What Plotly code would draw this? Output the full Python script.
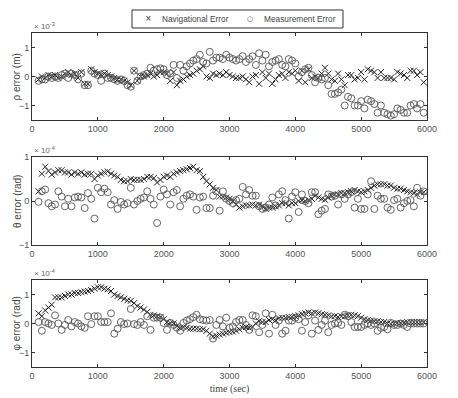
import plotly.graph_objects as go

# time samples (sec)
time_sec = list(range(100, 6000, 50))

# rho error (x1e-3 m)
rho_nav = [
    -0.1, 0.0, -0.05, 0.05, 0.0, 0.05, -0.05, 0.0, 0.1, 0.15,
    0.05, 0.1, -0.05, 0.15, -0.25, -0.25, 0.25, 0.15, 0.1, 0.05,
    0.1, 0.05, 0.0, -0.05, -0.1, -0.1, -0.15, -0.2, -0.3, 0.2,
    -0.15, 0.0, 0.0, 0.05, 0.1, 0.0, 0.05, 0.15, 0.15, 0.1,
    -0.15, 0.15, -0.3, -0.15, -0.1, 0.0, 0.05, 0.1, 0.2, 0.25,
    0.35, 0.0, -0.05, 0.1, 0.05, 0.1, 0.05, 0.15, 0.05, 0.0,
    -0.05, -0.05, 0.0, -0.1, -0.2, 0.0, 0.05, -0.25, 0.15, -0.05,
    0.1, -0.25, -0.1, 0.05, 0.1, -0.05, 0.15, 0.1, 0.2, -0.15,
    0.2, -0.2, 0.25, -0.05, 0.0, -0.05, 0.1, 0.3, 0.1, -0.1,
    -0.15, 0.1, -0.1, -0.3, 0.05, 0.05, -0.1, -0.05, 0.15, -0.1,
    0.25, 0.2, 0.15, -0.05, 0.15, -0.05, -0.05, -0.05, -0.1, 0.15,
    0.1, 0.05, -0.05, 0.2, 0.2, 0.05, 0.15, -0.2,
]
rho_meas = [
    -0.15, -0.1, -0.1, 0.0, -0.05, 0.0, -0.05, 0.05, 0.1, -0.05,
    0.1, 0.05, -0.1, 0.1, -0.3, -0.3, 0.2, 0.1, 0.05, -0.15,
    0.1, -0.05, -0.05, -0.1, -0.15, -0.1, -0.15, -0.3, -0.35, 0.2,
    -0.15, 0.0, 0.05, 0.1, 0.3, 0.2, 0.25, 0.28, 0.25, 0.05,
    0.1, 0.4, -0.05, 0.4, 0.2, 0.35, 0.45, 0.55, 0.6, 0.75,
    0.5, 0.45, 0.85, 0.55, 0.65, 0.65, 0.6, 0.75, 0.65, 0.6,
    0.55, 0.6, 0.7, 0.5, 0.6, 0.7, 0.4, 0.8, 0.55, 0.75,
    0.35, 0.5, 0.55, 0.6, 0.4, 0.35, 0.6, 0.55, 0.45, 0.0,
    0.15, 0.25, 0.3, 0.05, -0.2, -0.05, -0.1, -0.05, -0.3, -0.6,
    -0.6, -0.55, -0.45, -1.0, -0.7, -0.75, -1.0, -1.0, -0.85, -1.1,
    -0.8, -0.85, -0.95, -1.25, -1.0, -1.25, -1.3, -1.35, -1.3, -1.1,
    -1.15, -1.25, -1.25, -1.0, -0.95, -1.1, -0.95, -1.25,
]

# theta error (x1e-4 rad)
theta_nav = [
    0.22, 0.62, 0.78, 0.68, 0.6, 0.65, 0.7, 0.7, 0.65, 0.65,
    0.6, 0.65, 0.62, 0.65, 0.6, 0.62, 0.62, 0.5, 0.58, 0.62,
    0.65, 0.67, 0.62, 0.58, 0.55, 0.48, 0.45, 0.45, 0.5, 0.48,
    0.48, 0.48, 0.5, 0.55, 0.55, 0.52, 0.42, 0.48, 0.55, 0.58,
    0.55, 0.62, 0.65, 0.68, 0.7, 0.72, 0.75, 0.78, 0.7, 0.68,
    0.55, 0.45, 0.38, 0.3, 0.25, 0.1, 0.1, 0.08, 0.05, 0.0,
    -0.08, -0.15, -0.12, -0.1, -0.1, -0.08, -0.1, -0.08, -0.12, -0.18,
    -0.15, -0.15, -0.12, -0.1, -0.05, -0.05, -0.1, -0.05, -0.05, 0.0,
    0.02, 0.0, 0.02, 0.05, 0.12, 0.08, 0.05, 0.03, 0.08, 0.12,
    0.15, 0.15, 0.18, 0.18, 0.2, 0.22, 0.25, 0.22, 0.2, 0.22,
    0.25, 0.3, 0.35, 0.38, 0.38, 0.38, 0.35, 0.35, 0.3, 0.28,
    0.28, 0.25, 0.22, 0.2, 0.18, 0.15, 0.2, 0.2,
]
theta_meas = [
    -0.02, 0.22, 0.26, -0.05, -0.12, -0.08, 0.22, 0.1, -0.12, 0.05,
    -0.12, 0.08, 0.1, 0.08, -0.16, 0.18, 0.05, -0.4, 0.3, 0.2,
    0.28, 0.2, -0.08, 0.02, -0.18, -0.02, -0.08, -0.05, 0.3, -0.08,
    0.0, 0.05, 0.08, 0.22, 0.05, -0.08, -0.5, 0.1, 0.26, 0.15,
    -0.08, 0.2, 0.25, -0.12, 0.05, 0.12, 0.15, 0.1, -0.2, 0.08,
    0.1, -0.16, -0.16, 0.12, 0.22, -0.22, 0.22, 0.05, 0.0, -0.05,
    0.02, 0.05, 0.32, 0.15, 0.25, 0.12, 0.12, -0.12, -0.18, -0.15,
    -0.08, 0.08, -0.1, 0.15, 0.22, 0.02, -0.4, 0.1, 0.2, -0.25,
    0.15, 0.0, -0.05, 0.2, 0.2, -0.3, -0.22, -0.18, 0.15, 0.1,
    0.12, -0.08, 0.15, 0.05, 0.15, 0.2, -0.15, 0.05, -0.18, -0.18,
    0.15, 0.45, -0.18, 0.12, 0.05, 0.05, -0.15, -0.2, 0.02, 0.05,
    -0.15, -0.05, 0.0, 0.02, -0.12, 0.3, 0.12, 0.22,
]

# phi error (x1e-4 rad)
phi_nav = [
    0.35, 0.25, 0.45, 0.55, 0.65, 0.9, 0.9, 0.9, 0.95, 1.0,
    1.0, 1.05, 1.05, 1.08, 1.1, 1.12, 1.15, 1.2, 1.25, 1.25,
    1.2, 1.18, 1.12, 1.0, 0.95, 0.9, 0.85, 0.8, 0.78, 0.7,
    0.6, 0.55, 0.48, 0.4, 0.3, 0.28, 0.25, 0.22, 0.15, 0.05,
    0.02, 0.0, -0.08, -0.15, -0.12, -0.15, -0.18, -0.18, -0.18, -0.2,
    -0.2, -0.25, -0.35, -0.45, -0.42, -0.38, -0.35, -0.32, -0.3, -0.28,
    -0.25, -0.2, -0.15, -0.12, -0.15, -0.12, 0.0, 0.08, 0.05, 0.05,
    0.12, 0.15, 0.1, 0.18, 0.2, 0.2, 0.22, 0.22, 0.25, 0.28,
    0.32, 0.35, 0.38, 0.35, 0.38, 0.35, 0.32, 0.3, 0.28, 0.25,
    0.25, 0.22, 0.25, 0.25, 0.28, 0.3, 0.28, 0.25, 0.2, 0.15,
    0.12, 0.1, 0.08, 0.08, 0.05, 0.05, 0.0, -0.02, 0.0, 0.02,
    0.02, 0.02, 0.05, 0.05, 0.05, 0.05, 0.05, 0.05,
]
phi_meas = [
    0.05, -0.25, 0.05, 0.0, -0.05, 0.28, 0.0, -0.22, -0.05, 0.12,
    -0.1, 0.05, 0.0, -0.1, -0.15, 0.25, -0.02, 0.25, 0.25, 0.05,
    0.05, 0.05, 0.35, -0.35, -0.18, 0.05, -0.02, 0.0, 0.5, -0.02,
    -0.05, 0.05, -0.05, 0.25, -0.22, 0.2, 0.2, 0.2, 0.02, -0.22,
    0.02, -0.05, -0.15, -0.25, 0.02, 0.1, 0.15, 0.22, 0.3, 0.15,
    0.12, 0.1, 0.12, -0.52, -0.05, 0.12, -0.1, 0.2, -0.15, -0.1,
    0.05, 0.12, 0.12, -0.05, -0.22, 0.28, 0.25, -0.3, -0.05, 0.35,
    -0.35, 0.3, -0.05, 0.1, -0.35, -0.25, 0.1, 0.1, 0.2, 0.15,
    -0.25, 0.05, 0.28, -0.35, 0.1, -0.22, -0.05, 0.1, -0.3, -0.05,
    0.0, 0.02, -0.05, 0.3, 0.25, 0.05, -0.12, -0.12, -0.12, -0.05,
    0.0, -0.05, 0.0, -0.25, -0.15, -0.12, -0.2, 0.02, -0.05, -0.05,
    0.0, -0.05, -0.12, 0.0, 0.0, 0.0, 0.0, 0.0,
]

series_names = ["Navigational Error", "Measurement Error"]
legend_glyphs = ["\u00d7", "\u25cb"]
x_ticks = [0, 1000, 2000, 3000, 4000, 5000, 6000]
y_ticks = [-1, 0, 1]
y_titles = ["\u03c1 error (m)", "\u03b8 error (rad)", "\u03c6 error (rad)"]
exponents = ["\u00d7 10<sup>-3</sup>", "\u00d7 10<sup>-4</sup>", "\u00d7 10<sup>-4</sup>"]
y_ranges = [[-1.5, 1.5], [-1, 1], [-1.5, 1.5]]
domains = [[0.7395, 1.0], [0.3653, 0.6287], [0.0, 0.2605]]
panels = [(rho_nav, rho_meas), (theta_nav, theta_meas), (phi_nav, phi_meas)]

SANS = "Liberation Sans, Arial, sans-serif"
SERIF = "Liberation Serif, Times New Roman, serif"

fig = go.Figure()
for i, (nav, meas) in enumerate(panels):
    sfx = "" if i == 0 else str(i + 1)
    fig.add_trace(go.Scatter(
        x=time_sec, y=nav, mode="markers", name=series_names[0],
        showlegend=False, xaxis="x" + sfx, yaxis="y" + sfx,
        marker=dict(symbol="x-thin-open", size=6, line=dict(width=1, color="#222222"), color="#222222"),
    ))
    fig.add_trace(go.Scatter(
        x=time_sec, y=meas, mode="markers", name=series_names[1],
        showlegend=False, xaxis="x" + sfx, yaxis="y" + sfx,
        marker=dict(symbol="circle-open", size=7, line=dict(width=0.9, color="#555555"), color="#555555"),
    ))

axis_common = dict(
    showline=True, linecolor="#333333", linewidth=1, mirror="ticks",
    ticks="inside", ticklen=3, tickcolor="#333333", showgrid=False, zeroline=False,
    automargin=False,
    tickfont=dict(family=SANS, size=9, color="#555555"),
)

# page body has an 8px default margin, so the figure is sized to fit the window
layout = dict(
    width=450, height=390,
    paper_bgcolor="white", plot_bgcolor="white",
    margin=dict(l=24, r=31, t=25, b=31, autoexpand=False),
    showlegend=False,
    annotations=[],
    shapes=[dict(
        type="rect", xref="paper", yref="paper",
        x0=0.2532, x1=0.7873, y0=1.015, y1=1.0689,
        line=dict(color="#333333", width=1), fillcolor="white", layer="above",
    )],
)

# legend (drawn in the box above the top panel)
legend_sym_x = [0.2962, 0.5519]
legend_txt_x = [0.3241, 0.5823]
for k in range(2):
    layout["annotations"].append(dict(
        text=legend_glyphs[k], xref="paper", yref="paper", x=legend_sym_x[k], y=1.042,
        xanchor="center", yanchor="middle", showarrow=False,
        font=dict(family="DejaVu Sans, sans-serif", size=8 if k == 0 else 7, color="#333333"),
    ))
    layout["annotations"].append(dict(
        text=series_names[k], xref="paper", yref="paper", x=legend_txt_x[k], y=1.042,
        xanchor="left", yanchor="middle", showarrow=False,
        font=dict(family=SANS, size=8.3, color="#444444"),
    ))

for i in range(3):
    sfx = "" if i == 0 else str(i + 1)
    layout["xaxis" + sfx] = dict(
        axis_common, domain=[0, 1], range=[0, 6000], tickvals=x_ticks,
        anchor="y" + sfx,
    )
    layout["yaxis" + sfx] = dict(
        axis_common, domain=domains[i], range=y_ranges[i], tickvals=y_ticks,
        anchor="x" + sfx,
    )
    # y-axis title
    layout["annotations"].append(dict(
        text=y_titles[i], xref="paper", yref="paper", x=-0.038,
        y=(domains[i][0] + domains[i][1]) / 2, textangle=-90,
        xanchor="center", yanchor="middle", showarrow=False,
        font=dict(family=SANS, size=10, color="#444444"),
    ))
    # exponent label
    layout["annotations"].append(dict(
        text=exponents[i], xref="paper", yref="paper", x=0.0, y=domains[i][1],
        xanchor="left", yanchor="bottom", showarrow=False,
        font=dict(family=SANS, size=8, color="#666666"),
    ))

layout["xaxis3"]["title"] = dict(
    text="time (sec)", standoff=5,
    font=dict(family=SERIF, size=10, color="#444444"),
)

fig.update_layout(**layout)
fig.write_html("out.html")
